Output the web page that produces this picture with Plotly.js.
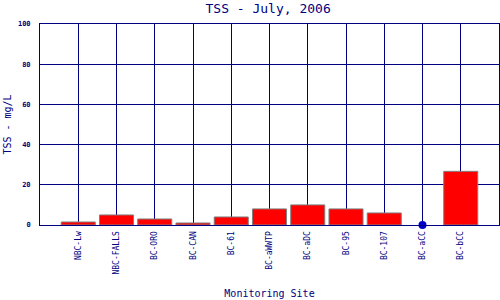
<!DOCTYPE html>
<html>
<head>
<meta charset="utf-8">
<script src="https://cdn.plot.ly/plotly-3.0.1.min.js"></script>
<style>html,body{margin:0;padding:0;background:#fff;}#chart{width:500px;height:300px;}</style>
</head>
<body>
<div id="chart"></div>
<script>
const sites = ["NBC-Lw","NBC-FALLS","BC-ORO","BC-CAN","BC-61","BC-aWWTP","BC-aDC","BC-95","BC-107","BC-aCC","BC-bCC"];
const tss = [1.5, 5, 3, 1, 4, 8, 10, 8, 6, 0, 26.7];
const yTicks = [0, 20, 40, 60, 80, 100];

const navy = "#000080";
const fontFam = "DejaVu Sans Mono, Liberation Mono, monospace";
const idx = sites.map((s, i) => i);

const barTrace = {
  type: "bar",
  x: idx,
  y: tss.map(v => v === 0 ? null : v),
  width: 0.89,
  marker: {color: "#ff0000", line: {color: "#808080", width: 1}},
  hoverinfo: "skip"
};
const zeroIdx = idx.filter(i => tss[i] === 0);
const dotTrace = {
  type: "scatter",
  mode: "markers",
  x: zeroIdx,
  y: zeroIdx.map(i => tss[i]),
  marker: {color: "#0000cc", size: 8},
  cliponaxis: false,
  hoverinfo: "skip"
};

const layout = {
  width: 500, height: 300,
  margin: {l: 40, r: 1, t: 24, b: 75, pad: 0},
  paper_bgcolor: "#ffffff", plot_bgcolor: "#ffffff",
  showlegend: false,
  title: {text: "TSS - July, 2006", font: {family: fontFam, size: 13, color: navy, weight: "normal"},
          x: 0.497, xref: "paper", xanchor: "center", y: 0.972, yref: "container", yanchor: "middle"},
  xaxis: {
    range: [-1, 11],
    tickmode: "array", tickvals: idx, ticktext: sites,
    tickangle: -90,
    tickfont: {family: fontFam, size: 8, color: navy},
    showgrid: true, gridcolor: navy, gridwidth: 1,
    showline: true, linecolor: navy, linewidth: 1, mirror: true,
    ticks: "outside", ticklen: 2, tickcolor: "rgba(0,0,0,0)",
    zeroline: false, fixedrange: true, automargin: false,
    title: {text: "Monitoring Site", font: {family: fontFam, size: 10, color: navy}, standoff: 16}
  },
  yaxis: {
    range: [0, 100],
    tickmode: "array", tickvals: yTicks,
    tickfont: {family: fontFam, size: 7, color: navy, weight: "bold"},
    showgrid: true, gridcolor: navy, gridwidth: 1,
    showline: true, linecolor: navy, linewidth: 1, mirror: true,
    ticks: "outside", ticklen: 7, tickcolor: "rgba(0,0,0,0)",
    zeroline: false, fixedrange: true, automargin: false,
    title: {text: "TSS - mg/L", font: {family: fontFam, size: 10, color: navy}, standoff: 4}
  }
};

Plotly.newPlot("chart", [barTrace, dotTrace], layout, {staticPlot: true, displayModeBar: false});
</script>
</body>
</html>
